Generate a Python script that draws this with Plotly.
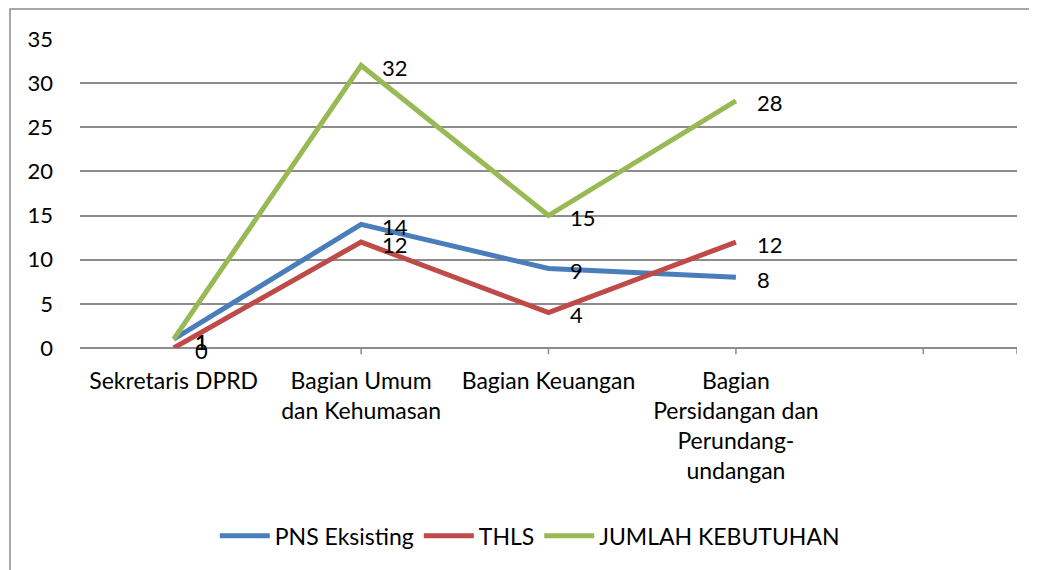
import plotly.graph_objects as go

categories = ["Sekretaris DPRD", "Bagian Umum<br>dan Kehumasan", "Bagian Keuangan",
              "Bagian<br>Persidangan dan<br>Perundang-<br>undangan", ""]
pns = [1, 14, 9, 8]
thls = [0, 12, 4, 12]
jumlah = [1, 32, 15, 28]

series = [
    ("PNS Eksisting", pns, "#4A7EBB"),
    ("THLS", thls, "#BE4B48"),
    ("JUMLAH KEBUTUHAN", jumlah, "#98B954"),
]

FONT = "Lato, Open Sans, sans-serif"
FS = 23
fig = go.Figure()
xs = list(range(len(pns)))
for name, vals, col in series:
    fig.add_trace(go.Scatter(x=xs, y=vals, mode="lines", name=name,
                             line=dict(color=col, width=5)))
    for xi, v in zip(xs, vals):
        fig.add_annotation(x=xi, y=v, text=str(v), showarrow=False,
                           xanchor="left", yanchor="middle", xshift=19, yshift=-2,
                           font=dict(size=FS - 1, color="black", family=FONT))

fig.update_layout(
    width=1037, height=570,
    margin=dict(l=72, r=28, t=31, b=230),
    paper_bgcolor="white", plot_bgcolor="white",
    font=dict(family=FONT, size=FS, color="black"),
    showlegend=True,
    legend=dict(orientation="h", x=0.48, xanchor="center", y=-0.608, yanchor="middle",
                yref="paper", font=dict(size=FS), itemwidth=50, tracegroupgap=0),
    shapes=[dict(type="rect", xref="paper", yref="paper", x0=-0.0747, x1=1.1,
                 y0=-0.95, y1=1.097, line=dict(color="#8C8C8C", width=1.5), layer="below")],
)
fig.update_xaxes(range=[-0.5, 4.5], tickvals=list(range(len(categories))),
                 ticktext=categories, showgrid=False, zeroline=False,
                 showline=False, ticks="", ticklabelstandoff=17,
                 tickfont=dict(size=FS))
fig.update_yaxes(range=[0, 35], tickvals=[0, 5, 10, 15, 20, 25, 30, 35],
                 showgrid=True, gridcolor="#8C8C8C", gridwidth=1.5,
                 zeroline=True, zerolinecolor="#8C8C8C", zerolinewidth=1.5,
                 showline=False, ticks="", ticklabelstandoff=26,
                 tickfont=dict(size=FS - 1))
# category tick marks
for t in [1, 2, 3, 4, 4.5]:
    fig.add_shape(type="line", xref="x", yref="paper", x0=t, x1=t, y0=0, y1=-0.02,
                  line=dict(color="#8C8C8C", width=1.5))
fig.write_html("out.html")
